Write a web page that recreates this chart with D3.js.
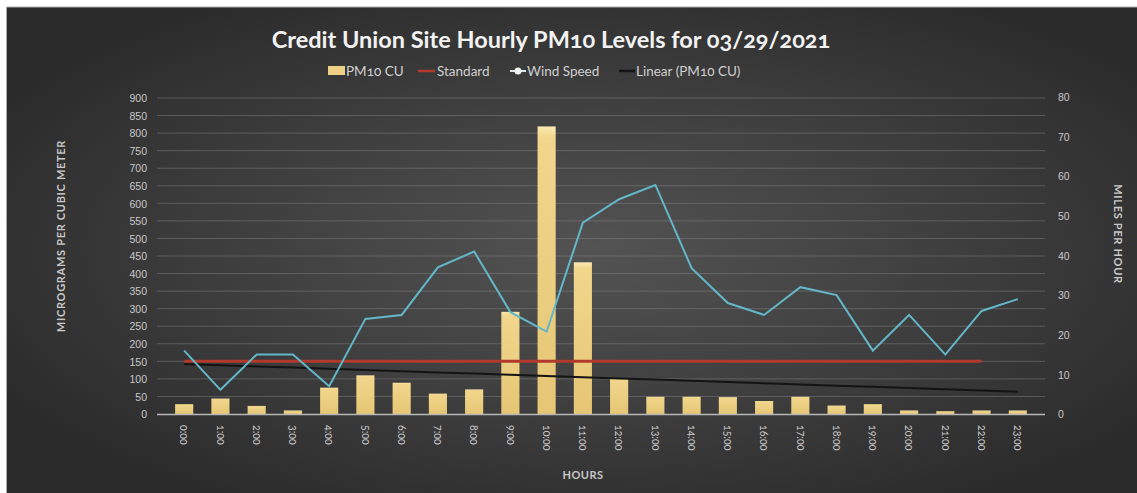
<!DOCTYPE html>
<html><head><meta charset="utf-8">
<script src="https://cdn.jsdelivr.net/npm/d3@7"></script>
<style>
html,body{margin:0;padding:0;background:#fff;}
svg{display:block;font-family:Lato,"Open Sans",sans-serif;font-variant-numeric:oldstyle-nums;}
</style></head><body>
<svg id="chart" width="1137" height="493"></svg>
<script>
const hours = ["0:00","1:00","2:00","3:00","4:00","5:00","6:00","7:00","8:00","9:00","10:00","11:00","12:00","13:00","14:00","15:00","16:00","17:00","18:00","19:00","20:00","21:00","22:00","23:00"];
const pm10 = [28,44,23,10,75,110,89,58,70,291,819,432,102,49,49,48,37,49,24,28,10,8,10,10];
const standard = [150,150,150,150,150,150,150,150,150,150,150,150,150,150,150,150,150,150,150,150,150,150,150,null];
const windSpeed = [16,6.1,15,15,7,24,25,37,41,25.7,20.8,48.3,54.2,57.8,36.8,28,25,32,30,16,25,15,26,29];
const leftTicks = [0,50,100,150,200,250,300,350,400,450,500,550,600,650,700,750,800,850,900];
const rightTicks = [0,10,20,30,40,50,60,70,80];
const seriesNames = ["PM10 CU","Standard","Wind Speed","Linear (PM10 CU)"];
const title = "Credit Union Site Hourly PM10 Levels for 03/29/2021";

const svg = d3.select("#chart");
const W = 1137, H = 493;
const defs = svg.append("defs");
const rg = defs.append("radialGradient").attr("id","bg").attr("cx","52%").attr("cy","50%").attr("r","62%");
rg.append("stop").attr("offset","0%").attr("stop-color","#535353");
rg.append("stop").attr("offset","55%").attr("stop-color","#3d3d3d");
rg.append("stop").attr("offset","100%").attr("stop-color","#2a2a2a");
const bg = defs.append("linearGradient").attr("id","bar").attr("x1",0).attr("x2",0).attr("y1",0).attr("y2",1);
bg.append("stop").attr("offset","0%").attr("stop-color","#fbeab0");
bg.append("stop").attr("offset","4%").attr("stop-color","#f1d68c");
bg.append("stop").attr("offset","100%").attr("stop-color","#e6c675");

svg.append("rect").attr("x",7).attr("y",7).attr("width",W-7).attr("height",H-7).attr("fill","url(#bg)");
svg.append("line").attr("x1",7).attr("x2",W).attr("y1",7).attr("y2",7).attr("stroke","#aaa").attr("stroke-width",1);
svg.append("line").attr("x1",6.5).attr("x2",6.5).attr("y1",7).attr("y2",H).attr("stroke","#aaa").attr("stroke-width",1);

const x = d3.scaleBand().domain(hours).range([157,1045]).padding(0.5);
const yL = d3.scaleLinear().domain([0,900]).range([414,98]);
const yR = d3.scaleLinear().domain([0,80]).range([414,97]);
const cx = h => x(h) + x.bandwidth()/2;

// gridlines
svg.append("g").selectAll("line").data(leftTicks.slice(1)).join("line")
  .attr("x1",157).attr("x2",1045).attr("y1",d=>yL(d)).attr("y2",d=>yL(d))
  .attr("stroke","#8a8a8a").attr("stroke-opacity",0.45).attr("stroke-width",1);

// left axis
const axL = svg.append("g").attr("transform","translate(147,0)")
  .call(d3.axisLeft(yL).tickValues(leftTicks).tickSize(0).tickPadding(0));
axL.select(".domain").remove();
axL.selectAll("text").attr("fill","#c8c8c8").style("font-size","10.5px").attr("dy","0.35em");

// right axis
const axR = svg.append("g").attr("transform","translate(1058,0)")
  .call(d3.axisRight(yR).tickValues(rightTicks).tickSize(0).tickPadding(0));
axR.select(".domain").remove();
axR.selectAll("text").attr("fill","#c8c8c8").style("font-size","10.5px").attr("dy","0.35em");

// bars
svg.append("g").selectAll("rect").data(pm10).join("rect")
  .attr("x",(d,i)=>x(hours[i])).attr("width",x.bandwidth())
  .attr("y",d=>yL(d)).attr("height",d=>yL(0)-yL(d)).attr("fill","url(#bar)");

// baseline
svg.append("line").attr("x1",157).attr("x2",1045).attr("y1",414.5).attr("y2",414.5)
  .attr("stroke","#b8b8b8").attr("stroke-width",1.5);

// standard line
const stdLine = d3.line().defined(d=>d.v!=null).x(d=>cx(d.h)).y(d=>yL(d.v));
svg.append("path").datum(hours.map((h,i)=>({h,v:standard[i]})))
  .attr("d",stdLine).attr("fill","none").attr("stroke","#b23a2c").attr("stroke-width",3);

// linear trend (least squares of pm10)
const n = pm10.length, xs = d3.range(n);
const mx = d3.mean(xs), my = d3.mean(pm10);
const slope = d3.sum(xs,(v,i)=>(v-mx)*(pm10[i]-my)) / d3.sum(xs,v=>(v-mx)*(v-mx));
const icpt = my - slope*mx;
svg.append("path").datum(hours.map((h,i)=>({h,v:icpt+slope*i})))
  .attr("d",d3.line().x(d=>cx(d.h)).y(d=>yL(d.v))).attr("fill","none").attr("stroke","#141414").attr("stroke-width",2);

// wind speed
svg.append("path").datum(hours.map((h,i)=>({h,v:windSpeed[i]})))
  .attr("d",d3.line().x(d=>cx(d.h)).y(d=>yR(d.v))).attr("fill","none")
  .attr("stroke","#63b7c9").attr("stroke-width",2).attr("stroke-linejoin","miter");

// x labels
svg.append("g").selectAll("text").data(hours).join("text")
  .attr("transform",h=>`translate(${cx(h)-3.8},425) rotate(90)`)
  .attr("fill","#c8c8c8").style("font-size","10.5px").attr("text-anchor","start").text(h=>h);

// axis titles
svg.append("text").attr("transform","translate(65,236) rotate(-90)").attr("text-anchor","middle")
  .attr("fill","#c8c8c8").style("font-size","11px").style("font-weight","bold").style("letter-spacing","0.7px").text("MICROGRAMS PER CUBIC METER");
svg.append("text").attr("transform","translate(1114,234) rotate(90)").attr("text-anchor","middle")
  .attr("fill","#c8c8c8").style("font-size","11px").style("font-weight","bold").style("letter-spacing","0.7px").text("MILES PER HOUR");
svg.append("text").attr("x",583).attr("y",479).attr("text-anchor","middle")
  .attr("fill","#c8c8c8").style("font-size","11px").style("font-weight","bold").style("letter-spacing","0.5px").text("HOURS");

// title
svg.append("text").attr("x",551).attr("y",48).attr("text-anchor","middle")
  .attr("fill","#f2f2f2").style("font-size","23.5px").style("font-weight","bold").text(title);

// legend
const legX = [328,418,510,619];
const lg = svg.append("g").selectAll("g").data(seriesNames).join("g")
  .attr("transform",(d,i)=>`translate(${legX[i]},71)`);
lg.each(function(d,i){
  const g = d3.select(this);
  if(i===0) g.append("rect").attr("x",0).attr("y",-5).attr("width",17).attr("height",9).attr("fill","#eed184");
  else if(i===1) g.append("line").attr("x1",0).attr("x2",17).attr("y1",0).attr("y2",0).attr("stroke","#b23a2c").attr("stroke-width",2.5);
  else if(i===2){ g.append("line").attr("x1",0).attr("x2",16).attr("y1",0).attr("y2",0).attr("stroke","#d8e4ea").attr("stroke-width",2);
    g.append("circle").attr("cx",8).attr("cy",0).attr("r",3.5).attr("fill","#eef3f6"); }
  else g.append("line").attr("x1",0).attr("x2",16).attr("y1",0).attr("y2",0).attr("stroke","#141414").attr("stroke-width",2.5);
  g.append("text").attr("x",i===0?18:(i===1?19:17)).attr("y",4.5).attr("fill","#cfcfcf").style("font-size","13.5px").text(d);
});
</script></body></html>
